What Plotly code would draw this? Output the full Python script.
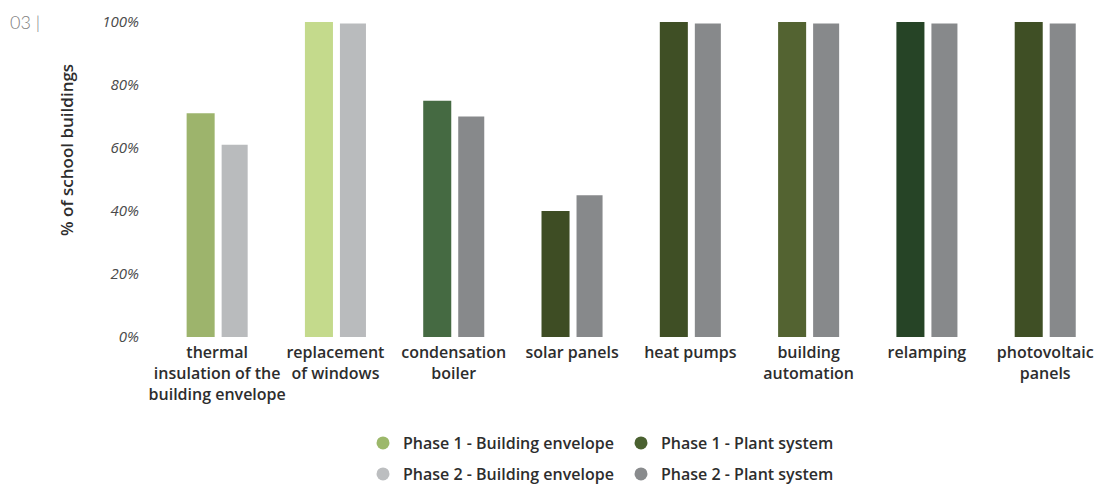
import plotly.graph_objects as go

categories = [
    "thermal<br>insulation of the<br>building envelope",
    "replacement<br>of windows",
    "condensation<br>boiler",
    "solar panels",
    "heat pumps",
    "building<br>automation",
    "relamping",
    "photovoltaic<br>panels",
]
phase1 = [71, 100, 75, 40, 100, 100, 100, 100]
phase2 = [61, 99.5, 70, 45, 99.5, 99.5, 99.5, 99.5]
y_ticks = [0, 20, 40, 60, 80, 100]
y_tick_labels = [f"{v}%" for v in y_ticks]
legend_names = [
    "Phase 1 - Building envelope",
    "Phase 1 - Plant system",
    "Phase 2 - Building envelope",
    "Phase 2 - Plant system",
]

phase1_colors = ["#9db46c", "#c4da8c", "#456a42", "#3e4d24",
                 "#3f4f25", "#536331", "#264426", "#3f4f25"]
phase2_colors = ["#b9bbbd", "#b9bbbd", "#87898b", "#87898b",
                 "#87898b", "#87898b", "#87898b", "#87898b"]
legend_colors = ["#9cb86a", "#4a6130", "#bcbec0", "#898b8d"]

fig = go.Figure()
fig.add_trace(go.Bar(x=categories, y=phase1, marker_color=phase1_colors,
                     marker_line_width=0, width=0.237, offset=-0.258,
                     showlegend=False, name="Phase 1"))
fig.add_trace(go.Bar(x=categories, y=phase2, marker_color=phase2_colors,
                     marker_line_width=0, width=0.22, offset=0.038,
                     showlegend=False, name="Phase 2"))

for i, (nm, col) in enumerate(zip(legend_names, legend_colors)):
    fig.add_trace(go.Scatter(x=[None], y=[None], mode="markers", name=nm,
                             marker=dict(size=13, color=col, symbol="circle"),
                             legend="legend" if i < 2 else "legend2"))

legend_font = dict(family="Open Sans", size=16, color="#2d2d2d", weight=600)
fig.update_layout(
    width=1102, height=485,
    margin=dict(l=158, r=0, t=22, b=148),
    paper_bgcolor="white", plot_bgcolor="white",
    barmode="overlay",
    xaxis=dict(range=[-0.5, 7.48], showgrid=False, zeroline=False, showline=False,
               ticks="", ticklabelstandoff=4,
               tickfont=dict(family="Open Sans", size=16, color="#2d2d2d", weight=600),
               tickangle=0, fixedrange=True),
    yaxis=dict(range=[0, 100], tickvals=y_ticks, ticktext=y_tick_labels, showgrid=False,
               zeroline=False, showline=False, ticks="", ticklabelstandoff=18,
               tickfont=dict(family="Open Sans", size=15, color="#4a4a4a", style="italic")),
    legend=dict(orientation="h", xref="container", yref="container",
                x=363 / 1102, y=1 - 426 / 485, xanchor="left", yanchor="top",
                font=legend_font, entrywidth=213, bgcolor="rgba(0,0,0,0)"),
    legend2=dict(orientation="h", xref="container", yref="container",
                 x=363 / 1102, y=1 - 457 / 485, xanchor="left", yanchor="top",
                 font=legend_font, entrywidth=213, bgcolor="rgba(0,0,0,0)"),
    showlegend=True,
)

fig.add_annotation(text="% of school buildings", textangle=-90, showarrow=False,
                   xref="paper", yref="paper", x=(66 - 158) / 944, y=(337 - 150) / 315,
                   xanchor="center", yanchor="middle",
                   font=dict(family="Open Sans", size=17, color="#2d2d2d", weight=600))
fig.add_annotation(text="03 |", showarrow=False, xref="paper", yref="paper",
                   x=(8 - 158) / 944, y=(337 - 22) / 315, xanchor="left", yanchor="middle",
                   font=dict(family="Lato", size=18, color="#808080", weight=300))

fig.write_html("out.html")
